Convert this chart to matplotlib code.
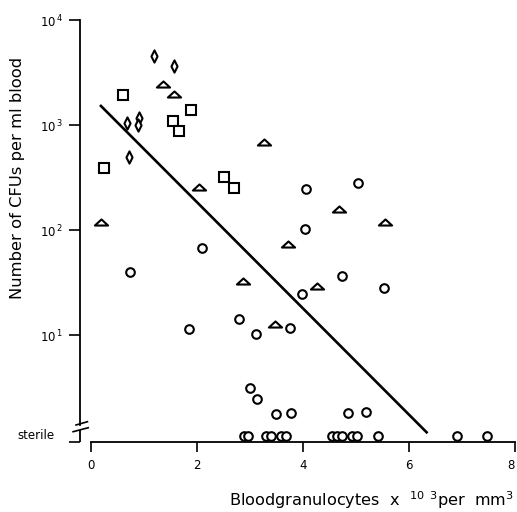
#!/usr/bin/env python3
"""CFUs per ml blood vs. blood granulocyte count (log scale, with 'sterile' row)."""

import numpy as np
import matplotlib

matplotlib.use("Agg")
import matplotlib.pyplot as plt
from matplotlib.path import Path

# level used for the "sterile" row on the log axis
STERILE = 1.1

# open circles
circle_x = [4.05, 5.03, 4.04, 4.74, 5.52, 3.98, 2.10, 0.74, 2.79, 1.85,
            3.11, 3.75, 3.00, 3.14, 3.50, 3.77, 4.84, 5.19]
circle_y = [244, 282, 103, 36.7, 27.9, 24.4, 67, 39.8, 14.2, 11.3,
            10.2, 11.7, 3.1, 2.47, 1.76, 1.82, 1.82, 1.85]

# open circles in the sterile row
sterile_x = [2.89, 2.96, 3.30, 3.40, 3.58, 3.68, 4.55, 4.64, 4.74, 4.92,
             5.02, 5.42, 6.91, 7.47]

# triangles
triangle_x = [0.18, 1.36, 1.57, 2.04, 3.27, 4.68, 5.55, 3.71, 2.87, 4.26, 3.47]
triangle_y = [120, 2450, 1960, 259, 684, 157, 120, 74, 33, 29.5, 12.6]

# squares
square_x = [0.61, 1.89, 1.55, 1.66, 0.245, 2.51, 2.70]
square_y = [1920, 1400, 1100, 870, 390, 322, 251]

# diamonds
diamond_x = [1.19, 1.57, 0.67, 0.90, 0.89, 0.71]
diamond_y = [4540, 3650, 1050, 1170, 1000, 500]

# regression line end points
fit_x = [0.17, 6.35]
fit_y = [1550, 1.16]

x_ticks = [0, 2, 4, 6, 8]
y_ticks = [10, 100, 1000, 10000]
y_ticklabels = [r"$\mathregular{10^{\,1}}$", r"$\mathregular{10^{\,2}}$",
                r"$\mathregular{10^{\,3}}$", r"$\mathregular{10^{\,4}}$"]

tri_marker = Path([(-1, -0.46), (1, -0.46), (0, 0.46), (-1, -0.46)],
                  [Path.MOVETO, Path.LINETO, Path.LINETO, Path.CLOSEPOLY])
dia_marker = Path([(0, 1), (0.5, 0), (0, -1), (-0.5, 0), (0, 1)],
                  [Path.MOVETO, Path.LINETO, Path.LINETO, Path.LINETO, Path.CLOSEPOLY])

fig = plt.figure(figsize=(5.17, 5.12), dpi=100)
ax = fig.add_axes([80 / 517, 70 / 512, 435 / 517, 422 / 512])

xmin, xmax = -0.2075, 8.0
ymin, ymax = 10 ** -0.019, 1e4
ax.set_xlim(xmin, xmax)
ax.set_yscale("log")
ax.set_ylim(ymin, ymax)

ax.plot(fit_x, fit_y, color="black", lw=1.9, zorder=2, solid_capstyle="butt")

mk = dict(ls="none", mfc="white", mec="black", mew=1.5, zorder=3, clip_on=False)
ax.plot(circle_x, circle_y, marker="o", ms=6.2, **mk)
ax.plot(sterile_x, [STERILE] * len(sterile_x), marker="o", ms=6.2, **mk)
ax.plot(triangle_x, triangle_y, marker=tri_marker, ms=9.5, **mk)
ax.plot(square_x, square_y, marker="s", ms=6.6, **mk)
ax.plot(diamond_x, diamond_y, marker=dia_marker, ms=8.8, **mk)

# spines
for side in ("top", "right"):
    ax.spines[side].set_visible(False)
ax.spines["bottom"].set_bounds(0, 8)
brk_hi = 10 ** 0.143
brk_lo = 10 ** 0.095
ax.spines["left"].set_bounds(brk_hi, ymax)
for sp in ax.spines.values():
    sp.set_linewidth(1.3)
ax.plot([xmin, xmin], [brk_lo, ymin], color="black", lw=1.3, clip_on=False,
        solid_capstyle="butt")
# axis break marks
ax.plot([xmin - 0.075, xmin + 0.14], [10 ** 0.143, 10 ** 0.174], color="black",
        lw=1.2, clip_on=False)
ax.plot([xmin - 0.13, xmin + 0.155], [10 ** 0.079, 10 ** 0.117], color="black",
        lw=1.2, clip_on=False)

# ticks
ax.set_xticks(x_ticks)
ax.set_xticklabels([str(t) for t in x_ticks], fontsize=8.5)
ax.get_xticklabels()[-1].set_horizontalalignment("right")
ax.tick_params(axis="x", direction="out", length=7.2, width=1.2, pad=5)
ax.set_yticks([ymin] + y_ticks)
ax.set_yticklabels([""] + y_ticklabels, fontsize=8.5)
ax.yaxis.set_minor_locator(matplotlib.ticker.NullLocator())
ax.tick_params(axis="y", direction="out", length=8, width=1.2, pad=4)

ax.annotate("sterile", xy=(0, STERILE), xycoords=ax.get_yaxis_transform(),
            xytext=(-18, 0), textcoords="offset points", ha="right", va="center",
            fontsize=8.5)

fig.text(18 / 517, 1 - 177.5 / 512, "Number of CFUs per ml blood", rotation=90,
         ha="center", va="center", fontsize=11.8, fontweight="medium")
fig.text(371.5 / 517, 6 / 512,
         r"Bloodgranulocytes  x  $\mathregular{^{10}}$ $\mathregular{^{3}}$per  mm$\mathregular{^{3}}$",
         ha="center", va="baseline", fontsize=11.6, fontweight="medium")

fig.savefig("out.png", dpi=100)
